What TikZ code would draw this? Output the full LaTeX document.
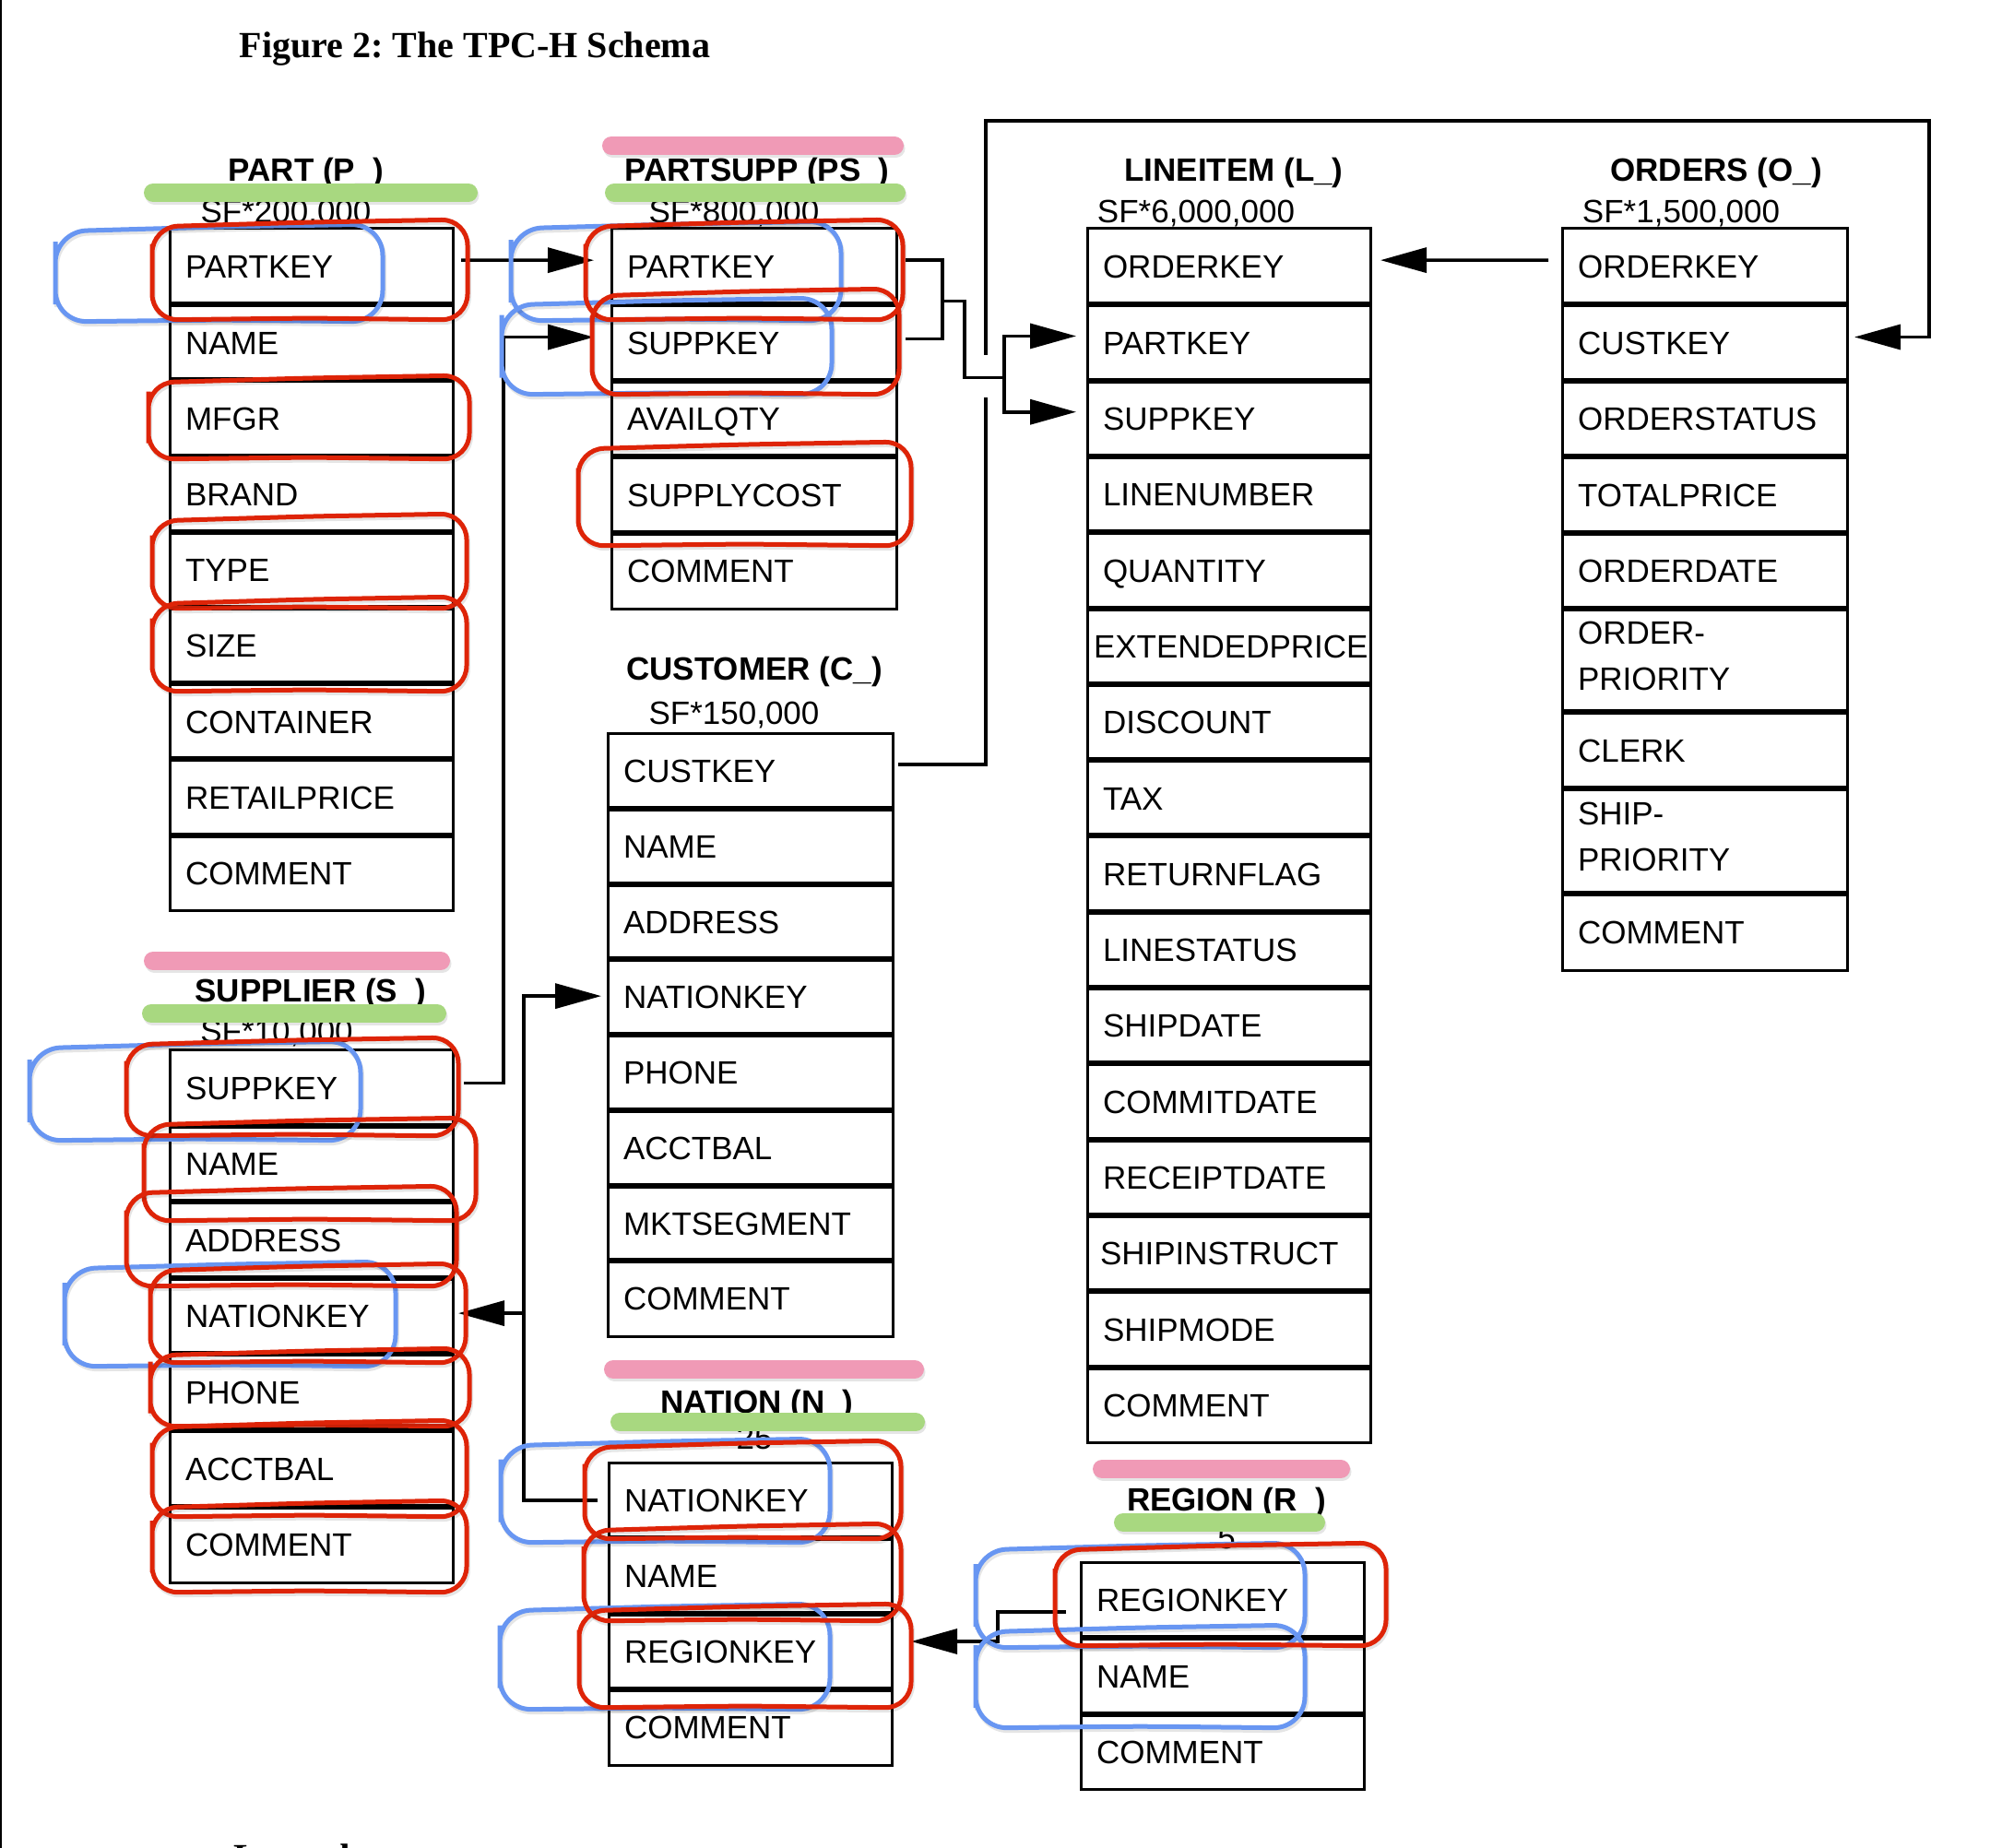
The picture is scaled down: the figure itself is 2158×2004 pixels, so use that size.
\documentclass[tikz,border=0pt]{standalone}
\usepackage{fontspec}
\setmainfont{Liberation Sans}
\newfontfamily\titlefont{Liberation Serif}
\usetikzlibrary{arrows.meta,calc}
\frenchspacing

\definecolor{hlred}{RGB}{222,36,8}
\definecolor{hlblue}{RGB}{104,150,242}
\definecolor{hlpink}{RGB}{240,154,182}
\definecolor{hlgreen}{RGB}{168,216,128}

\tikzset{
  field/.style={draw, line width=3pt, anchor=north west, outer sep=0pt,
    inner xsep=17pt, inner ysep=0pt, align=left, text height=25.5pt, text depth=0pt,
    font=\fontsize{35}{50}\selectfont},
  twoline/.style={text depth=60pt},
  divider/.style={line width=6pt},
  conn/.style={line width=3.5pt},
  fk/.style={conn, -{Triangle[length=50pt,width=27pt]}},
  head/.style={font=\fontsize{35}{42}\selectfont\bfseries, anchor=base, inner sep=0pt},
  sf/.style={font=\fontsize{35}{42}\selectfont, anchor=base, inner sep=0pt},
  softshadow/.style={preaction={draw=black, opacity=0.10, line width=#1,
    line cap=round, transform canvas={shift={(1.5pt,-3pt)}}}},
  bar/.style={line width=20pt, line cap=round, softshadow=20pt},
  redloop/.style={draw=hlred, line width=5pt, rounded corners=28pt, softshadow=5pt},
  blueloop/.style={draw=hlblue, line width=5pt, rounded corners=34pt, softshadow=5pt},
}

% one table: prefix, left x, top y, width, row height, field list
\newcommand\mktable[6]{%
  \pgfmathsetmacro\tblw{#4-34}%
  \foreach \f [count=\i] in {#6} {%
    \node[field, minimum width=#4pt, minimum height=#5pt, text width=\tblw pt]
      (#1\i) at (#2,{#3+(\i-1)*#5}) {\f};
    \ifnum\i>1 \draw[divider] (#1\i.north west) -- (#1\i.north east);\fi
  }%
}

% hand-drawn marker loop: style, x1, y1, x2, y2
\newcommand\lasso[5]{%
  \draw[#1] (#2,{(#3+#5)/2}) -- (#2,{#3+8}) -- ({(#2+#4)/2},{#3+3}) -- (#4,#3)
    -- (#4,#5) -- ({(#2+#4)/2},{#5-2}) -- (#2,#5) -- cycle;
}

\begin{document}
\begin{tikzpicture}[x=1pt,y=-1pt]
\useasboundingbox (0,0) rectangle (2158,2004);
\fill[white] (0,0) rectangle (2158,2004);
\draw[line width=2.5pt] (1,0) -- (1,2004);

% caption
\node[font={\titlefont\fontsize{40}{48}\selectfont\bfseries}, anchor=base, inner sep=0pt]
  (title) at (515,63) {Figure 2: The TPC-H Schema};
\node[font={\titlefont\fontsize{40}{48}\selectfont\bfseries}, anchor=base west, inner sep=0pt]
  (legend) at (253,2027) {Legend};

% ---------- headers ----------
\node[head] (hP)  at (332,197)  {PART (P\textunderscore)};
\node[sf]   (sP)  at (310,242)  {SF*200,000};
\node[head] (hPS) at (821,197)  {PARTSUPP (PS\textunderscore)};
\node[sf]   (sPS) at (796,242)  {SF*800,000};
\node[head] (hL)  at (1338,197) {LINEITEM (L\textunderscore)};
\node[sf]   (sL)  at (1297,242) {SF*6,000,000};
\node[head] (hO)  at (1861,197) {ORDERS (O\textunderscore)};
\node[sf]   (sO)  at (1823,242) {SF*1,500,000};
\node[head] (hC)  at (818,737)  {CUSTOMER (C\textunderscore)};
\node[sf]   (sC)  at (796,785)  {SF*150,000};
\node[head] (hS)  at (337,1086) {SUPPLIER (S\textunderscore)};
\node[sf]   (sS)  at (300,1130) {SF*10,000};
\node[head] (hN)  at (821,1532) {NATION (N\textunderscore)};
\node[sf]   (sN)  at (818,1571) {25};
\node[head] (hR)  at (1330,1638) {REGION (R\textunderscore)};
\node[sf]   (sR)  at (1330,1679) {5};

% ---------- tables ----------
\mktable{P}{184}{248}{307}{82.2}{PARTKEY,NAME,MFGR,BRAND,TYPE,SIZE,CONTAINER,RETAILPRICE,COMMENT}
\mktable{PS}{663}{248}{309}{82.4}{PARTKEY,SUPPKEY,AVAILQTY,SUPPLYCOST,COMMENT}
\mktable{C}{659}{795}{309}{81.75}{CUSTKEY,NAME,ADDRESS,NATIONKEY,PHONE,ACCTBAL,MKTSEGMENT,COMMENT}
\mktable{S}{184}{1138}{307}{82.6}{SUPPKEY,NAME,ADDRESS,NATIONKEY,PHONE,ACCTBAL,COMMENT}
\mktable{N}{660}{1586}{307}{82}{NATIONKEY,NAME,REGIONKEY,COMMENT}
\mktable{R}{1172}{1694}{307}{82.3}{REGIONKEY,NAME,COMMENT}
\mktable{L}{1179}{248}{307}{82.3}{ORDERKEY,PARTKEY,SUPPKEY,LINENUMBER,QUANTITY,{\hspace*{-10pt}\mbox{EXTENDEDPRICE}},DISCOUNT,TAX,RETURNFLAG,LINESTATUS,SHIPDATE,COMMITDATE,RECEIPTDATE,{\hspace*{-3pt}SHIPINSTRUCT},SHIPMODE,COMMENT}

% ORDERS has two taller rows
\begin{scope}[every node/.style={field, minimum width=309pt, text width=275pt}]
\node[minimum height=82pt]  (O1) at (1694,248) {ORDERKEY};
\node[minimum height=83pt]  (O2) at (1694,330) {CUSTKEY};
\node[minimum height=82pt]  (O3) at (1694,413) {ORDERSTATUS};
\node[minimum height=83pt]  (O4) at (1694,495) {TOTALPRICE};
\node[minimum height=82pt]  (O5) at (1694,578) {ORDERDATE};
\node[minimum height=112pt, twoline] (O6) at (1694,660) {ORDER-\\PRIORITY};
\node[minimum height=83pt]  (O7) at (1694,772) {CLERK};
\node[minimum height=114pt, twoline] (O8) at (1694,855) {SHIP-\\PRIORITY};
\node[minimum height=83pt]  (O9) at (1694,969) {COMMENT};
\end{scope}
\foreach \i in {2,...,9} \draw[divider] (O\i.north west) -- (O\i.north east);

% ---------- highlight bars ----------
\draw[bar, hlgreen] (166,209) -- (508,209);
\draw[bar, hlpink]  (663,158) -- (970,158);
\draw[bar, hlgreen] (666,209) -- (972,209);
\draw[bar, hlpink]  (166,1042) -- (478,1042);
\draw[bar, hlgreen] (164,1099) -- (474,1099);
\draw[bar, hlpink]  (665,1485) -- (992,1485);
\draw[bar, hlgreen] (672,1542) -- (993,1542);
\draw[bar, hlpink]  (1195,1593) -- (1454,1593);
\draw[bar, hlgreen] (1218,1651) -- (1427,1651);

% ---------- foreign keys ----------
\coordinate (psj) at ($(PS1.east)!0.5!(PS2.east)+(50,-4)$);
\coordinate (lj)  at ($(L2.west)!0.5!(L3.west)+(-90,-3)$);
\coordinate (tl)  at (1069,131);
\coordinate (tr)  at (2092,131);

% CUSTOMER.CUSTKEY -> ORDERS.CUSTKEY
\draw[fk] ($(C1.east)+(6,-7)$) -| (tl) -- (tr) |- ($(O2.east)+(8,-6)$);
% line jump where the PARTSUPP link crosses
\draw[white, line width=10pt] ($(tl|-lj)+(0,-25)$) -- ($(tl|-lj)+(0,21)$);

% PART.PARTKEY -> PARTSUPP.PARTKEY
\draw[fk] ($(P1.east)+(9,-7)$) -- ($(PS1.west)+(-19,-7)$);
% SUPPLIER.SUPPKEY -> PARTSUPP.SUPPKEY
\draw[fk] ($(S1.east)+(12,-5)$) -- ++(43,0) |- ($(PS2.west)+(-19,-6)$);
% PARTSUPP (PARTKEY, SUPPKEY) -> LINEITEM (PARTKEY, SUPPKEY)
\draw[conn] ($(PS1.east)+(10,-7)$) -| (psj) |- ($(PS2.east)+(10,-4)$);
\draw[conn] (psj) -- ++(24,0) |- (lj);
\draw[fk] (lj) |- ($(L2.west)+(-12,-7)$);
\draw[fk] (lj) |- ($(L3.west)+(-12,-7)$);
% ORDERS.ORDERKEY -> LINEITEM.ORDERKEY
\draw[fk] ($(O1.west)+(-15,-7)$) -- ($(L1.east)+(11,-7)$);
% NATION.NATIONKEY -> CUSTOMER.NATIONKEY, SUPPLIER.NATIONKEY
\coordinate (nv)  at ($(N1.west)+(-92,0)$);
\coordinate (s4t) at ($(S4.east)+(6,-3)$);
\draw[fk] ($(N1.west)+(-12,0)$) -- (nv) |- ($(C4.west)+(-7,-1)$);
\draw[fk] (nv |- s4t) -- (s4t);
% REGION.REGIONKEY -> NATION.REGIONKEY
\draw[fk] ($(R1.west)+(-16,13)$) -- ++(-74,0) |- ($(N3.east)+(21,-11)$);

% ---------- marker loops ----------
% blue
\lasso{blueloop}{60}{243}{415}{349}
\lasso{blueloop}{554}{240}{912}{348}
\lasso{blueloop}{544}{323}{902}{428}
\lasso{blueloop}{32}{1129}{391}{1237}
\lasso{blueloop}{70}{1368}{429}{1482}
\lasso{blueloop}{543}{1560}{900}{1673}
\lasso{blueloop}{542}{1739}{900}{1854}
\lasso{blueloop}{1058}{1673}{1415}{1787}
\lasso{blueloop}{1058}{1762}{1415}{1874}
% red
\lasso{redloop}{165}{238}{507}{347}
\lasso{redloop}{161}{407}{509}{498}
\lasso{redloop}{165}{557}{506}{660}
\lasso{redloop}{165}{647}{506}{750}
\lasso{redloop}{635}{238}{979}{347}
\lasso{redloop}{642}{313}{975}{428}
\lasso{redloop}{627}{479}{988}{592}
\lasso{redloop}{137}{1125}{497}{1232}
\lasso{redloop}{156}{1212}{516}{1324}
\lasso{redloop}{137}{1286}{495}{1395}
\lasso{redloop}{163}{1370}{505}{1478}
\lasso{redloop}{163}{1462}{509}{1547}
\lasso{redloop}{165}{1540}{506}{1645}
\lasso{redloop}{165}{1627}{506}{1727}
\lasso{redloop}{634}{1562}{977}{1669}
\lasso{redloop}{633}{1652}{977}{1758}
\lasso{redloop}{628}{1739}{988}{1852}
\lasso{redloop}{1144}{1673}{1503}{1785}
\end{tikzpicture}
\end{document}
